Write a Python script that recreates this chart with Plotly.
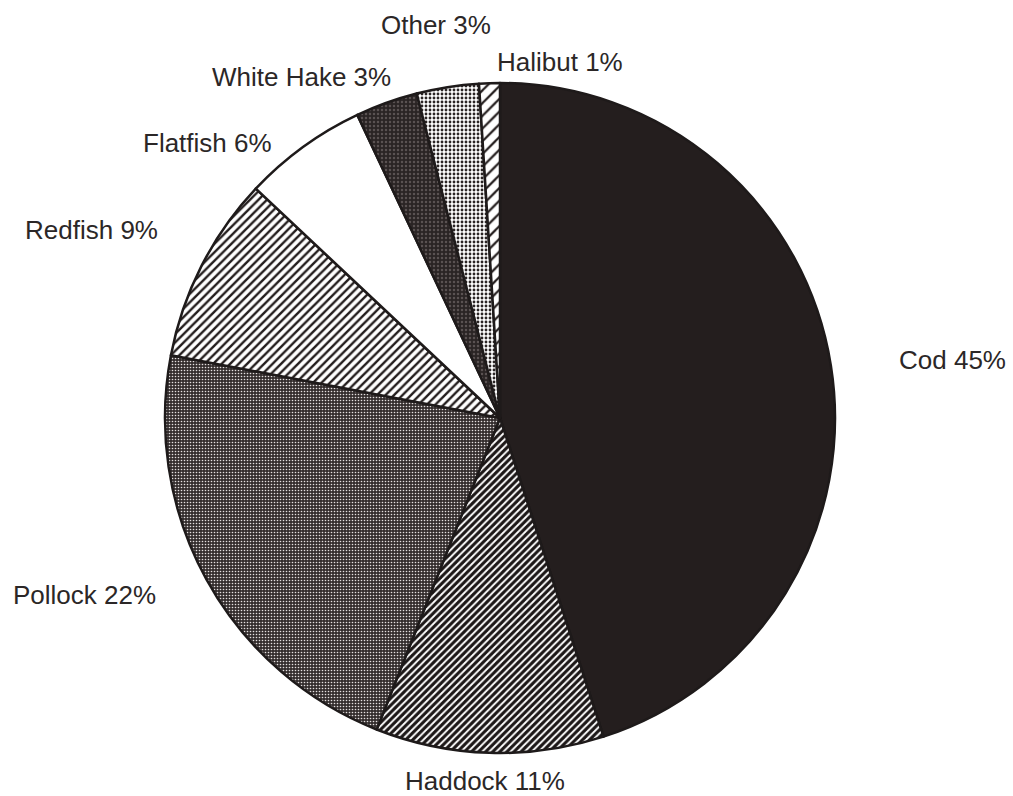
import plotly.graph_objects as go

# Landings share by species (percent)
species = ["Cod", "Haddock", "Pollock", "Redfish", "Flatfish", "White Hake", "Other", "Halibut"]
shares = [45, 11, 22, 9, 6, 3, 3, 1]

# Label anchor points (paper coordinates) for each species
label_x = [0.940, 0.479, 0.083, 0.090, 0.205, 0.298, 0.430, 0.553]
label_y = [0.548, 0.019, 0.252, 0.711, 0.820, 0.903, 0.969, 0.922]

W, H = 1013, 796

fills = ["#241e1e", "#ffffff", "#2e2828", "#ffffff", "#ffffff", "#342d2d", "#ffffff", "#ffffff"]
pat_shape = ["", "/", ".", "/", "", ".", ".", "/"]
pat_fg = ["#241e1e", "#1c1717", "#e4e0e0", "#231d1d", "#231d1d", "#5a5252", "#2a2424", "#231d1d"]
pat_bg = ["#241e1e", "#ffffff", "#342e2e", "#ffffff", "#ffffff", "#2a2424", "#ffffff", "#ffffff"]
pat_size = [6, 5, 3, 6, 6, 4, 4, 9]
pat_solid = [0.3, 0.62, 0.24, 0.4, 0.3, 0.3, 0.4, 0.25]

fig = go.Figure(
    go.Pie(
        labels=species,
        values=shares,
        sort=False,
        direction="clockwise",
        rotation=0,
        textinfo="none",
        hoverinfo="label+percent",
        showlegend=False,
        domain=dict(x=[165 / W, 835 / W], y=[1 - 753 / H, 1 - 83 / H]),
        marker=dict(
            colors=fills,
            line=dict(color="#1e1a1a", width=2.5),
            pattern=dict(
                shape=pat_shape,
                fgcolor=pat_fg,
                bgcolor=pat_bg,
                size=pat_size,
                solidity=pat_solid,
                fillmode="replace",
            ),
        ),
    )
)

for name, val, lx, ly in zip(species, shares, label_x, label_y):
    fig.add_annotation(
        x=lx, y=ly, xref="paper", yref="paper",
        text=f"{name} {val}%",
        showarrow=False,
        xanchor="center", yanchor="middle",
        font=dict(family="Liberation Sans, Arial, sans-serif", size=26, color="#2b2727"),
    )

fig.update_layout(
    width=W,
    height=H,
    margin=dict(l=0, r=0, t=0, b=0),
    paper_bgcolor="#ffffff",
    plot_bgcolor="#ffffff",
)

fig.write_html("out.html")
